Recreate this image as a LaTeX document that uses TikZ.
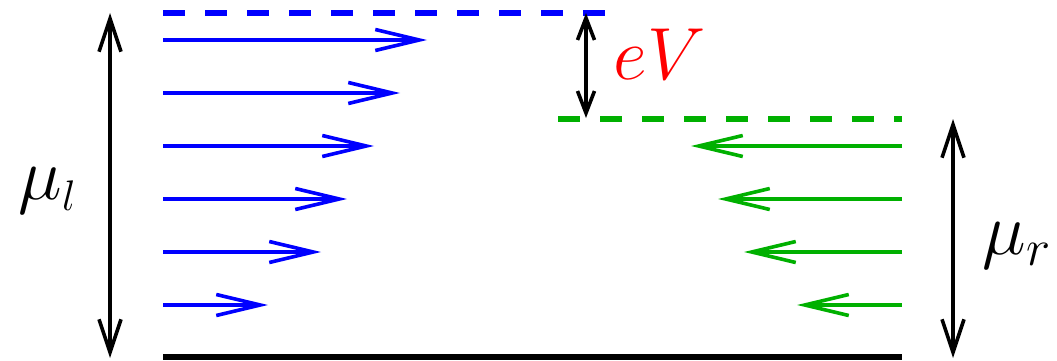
\documentclass[tikz,border=0pt]{standalone}
\usetikzlibrary{arrows.meta}
\definecolor{fgreen}{RGB}{0,176,0}
\newcommand{\subsz}[2]{\mbox{\fontsize{#1}{#1}\selectfont$#2$}}
\begin{document}
\begin{tikzpicture}[x=1pt,y=-1pt,
  level/.style={line width=6pt,dash pattern=on 22pt off 20pt},
  flow/.style={line width=3.6pt,-{Straight Barb[length=44pt,width=21pt]}},
  span/.style={line width=3.6pt,{Straight Barb[length=33pt,width=22pt]}-{Straight Barb[length=33pt,width=22pt]}},
  gap/.style={line width=3.6pt,{Straight Barb[length=22pt,width=17pt]}-{Straight Barb[length=22pt,width=17pt]}},
  lab/.style={inner sep=0pt,anchor=base west,font=\Huge,scale=2.97}]
\useasboundingbox (0,0) rectangle (1057,361);
% levels
\coordinate (bl) at (163,13);  \coordinate (br) at (607,13);
\coordinate (gl) at (558,118.5); \coordinate (gr) at (902,118.5);
\coordinate (zl) at (163,357); \coordinate (zr) at (902,357);
\draw[level,blue] (bl) -- (br);
\draw[level,fgreen] (gl) -- (gr);
\draw[line width=5.5pt] (zl) -- (zr);
% blue arrows
\foreach \y/\t [count=\i] in {40/427,93/400,146/374,199/347,252/321,305/268}{
  \coordinate (ls\i) at (163,\y); \coordinate (le\i) at (\t,\y);
  \draw[flow,blue] (ls\i) -- (le\i);
}
% green arrows
\foreach \y/\t [count=\i] in {146/691,199/718,252/744,305/797}{
  \coordinate (rs\i) at (902,\y); \coordinate (re\i) at (\t,\y);
  \draw[flow,fgreen] (rs\i) -- (re\i);
}
% double arrows
\coordinate (lt) at (110,13); \coordinate (lb) at (110,358);
\coordinate (rt) at (953,119); \coordinate (rb) at (953,358);
\coordinate (et) at (586,13); \coordinate (eb) at (586,118);
\draw[span] (lt) -- (lb);
\draw[span] (rt) -- (rb);
\draw[gap] (et) -- (eb);
% labels
\node[lab] (mul) at (18,199) {$\mu_{\subsz{14.4}{l}}$};
\node[lab] (mur) at (982,254) {$\mu_{\subsz{17.28}{r}}$};
\node[lab,red] (ev) at (613,80) {$eV$};
\end{tikzpicture}
\end{document}
